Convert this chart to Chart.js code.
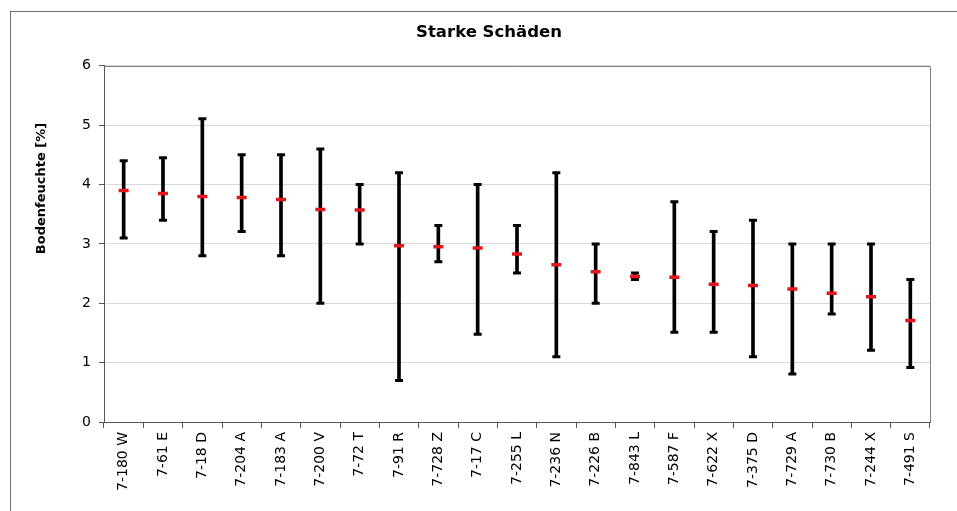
<!DOCTYPE html>
<html>
<head>
<meta charset="utf-8">
<script src="https://cdn.jsdelivr.net/npm/chart.js@4.4.1/dist/chart.umd.min.js"></script>
<style>
  body { margin: 0; background: #fff; }
  #rahmen { position: absolute; left: 10px; top: 11px; width: 1000px; height: 600px; border: 1px solid #6f6f6f; }
  #wrap { position: absolute; left: 0; top: 0; width: 957px; height: 511px; }
</style>
</head>
<body>
<div id="rahmen"></div>
<div id="wrap"><canvas id="grafik" width="957" height="511"></canvas></div>
<script>
const kategorien = ["7-180 W", "7-61 E", "7-18 D", "7-204 A", "7-183 A", "7-200 V", "7-72 T", "7-91 R", "7-728 Z", "7-17 C", "7-255 L",
  "7-236 N", "7-226 B", "7-843 L", "7-587 F", "7-622 X", "7-375 D", "7-729 A", "7-730 B", "7-244 X", "7-491 S"];
const mittelwerte = [3.90, 3.85, 3.80, 3.78, 3.75, 3.58, 3.57, 2.97, 2.95, 2.93, 2.83, 2.65, 2.53, 2.45, 2.44, 2.32, 2.30, 2.24, 2.17, 2.11, 1.71];
const maxima = [4.40, 4.45, 5.11, 4.50, 4.50, 4.60, 4.00, 4.20, 3.31, 4.00, 3.31, 4.20, 3.00, 2.51, 3.71, 3.21, 3.40, 3.00, 3.00, 3.00, 2.40];
const minima = [3.10, 3.40, 2.80, 3.21, 2.80, 2.00, 3.00, 0.70, 2.70, 1.48, 2.51, 1.10, 2.00, 2.40, 1.51, 1.51, 1.10, 0.81, 1.82, 1.21, 0.92];
const yTicks = [0, 1, 2, 3, 4, 5, 6];

const schrift = "'DejaVu Sans', Verdana, sans-serif";

// Rahmen oben/rechts um die Zeichenfläche
const rahmenPlugin = {
  id: "rahmenPlugin",
  beforeDatasetsDraw(chart) {
    const a = chart.chartArea;
    const ctx = chart.ctx;
    ctx.save();
    ctx.strokeStyle = "#808080";
    ctx.lineWidth = 1;
    ctx.beginPath();
    ctx.moveTo(Math.round(a.left), Math.round(a.top) + 0.5);
    ctx.lineTo(Math.round(a.right) + 0.5, Math.round(a.top) + 0.5);
    ctx.lineTo(Math.round(a.right) + 0.5, Math.round(a.bottom));
    ctx.stroke();
    ctx.restore();
  }
};

// Achsentitel links (nicht mittig zur Achse wie im Original)
const achsenTitel = {
  id: "achsenTitel",
  afterDraw(chart) {
    const ctx = chart.ctx;
    ctx.save();
    ctx.translate(42, 188.5);
    ctx.rotate(-Math.PI / 2);
    ctx.font = "bold 13px " + schrift;
    ctx.fillStyle = "#000";
    ctx.textAlign = "center";
    ctx.textBaseline = "middle";
    ctx.fillText("Bodenfeuchte [%]", 0, 0);
    ctx.restore();
  }
};

new Chart(document.getElementById("grafik"), {
  type: "bar",
  data: {
    labels: kategorien,
    datasets: [
      {
        type: "line",
        label: "Mittelwert",
        data: mittelwerte,
        showLine: false,
        pointStyle: "line",
        pointRadius: 5,
        pointHoverRadius: 5,
        pointBorderWidth: 3.5,
        borderColor: "#e3161b",
        backgroundColor: "#e3161b"
      },
      {
        type: "line",
        label: "Max",
        data: maxima,
        showLine: false,
        pointStyle: "line",
        pointRadius: 4,
        pointHoverRadius: 4,
        pointBorderWidth: 3,
        borderColor: "#000",
        backgroundColor: "#000"
      },
      {
        type: "line",
        label: "Min",
        data: minima,
        showLine: false,
        pointStyle: "line",
        pointRadius: 4,
        pointHoverRadius: 4,
        pointBorderWidth: 3,
        borderColor: "#000",
        backgroundColor: "#000"
      },
      {
        type: "bar",
        label: "Spanne",
        data: kategorien.map((k, i) => [minima[i], maxima[i]]),
        barThickness: 3,
        backgroundColor: "#000",
        borderWidth: 0
      }
    ]
  },
  options: {
    responsive: false,
    animation: false,
    events: [],
    layout: { padding: { left: 48, right: 27, top: 0, bottom: 0 } },
    plugins: {
      legend: { display: false },
      tooltip: { enabled: false },
      title: {
        display: true,
        text: "Starke Schäden",
        color: "#000",
        font: { family: schrift, size: 16.5, weight: "bold" },
        padding: { top: 23, bottom: 23 }
      }
    },
    scales: {
      x: {
        offset: true,
        grid: { offset: true, drawOnChartArea: false, tickLength: 6, tickColor: "#555" },
        border: { color: "#555", width: 1 },
        ticks: {
          color: "#000",
          font: { family: schrift, size: 14 },
          minRotation: 90,
          maxRotation: 90,
          autoSkip: false,
          padding: 4
        },
        afterFit(scale) { scale.height = 89; }
      },
      y: {
        min: 0,
        max: 6,
        afterBuildTicks(scale) { scale.ticks = yTicks.map(v => ({ value: v })); },
        grid: { color: "#d9d9d9", tickLength: 5, tickColor: "#555" },
        border: { color: "#555", width: 1 },
        ticks: {
          color: "#000",
          font: { family: schrift, size: 14 },
          padding: 8
        },
        afterFit(scale) { scale.width = 56; }
      }
    }
  },
  plugins: [rahmenPlugin, achsenTitel]
});
</script>
</body>
</html>
